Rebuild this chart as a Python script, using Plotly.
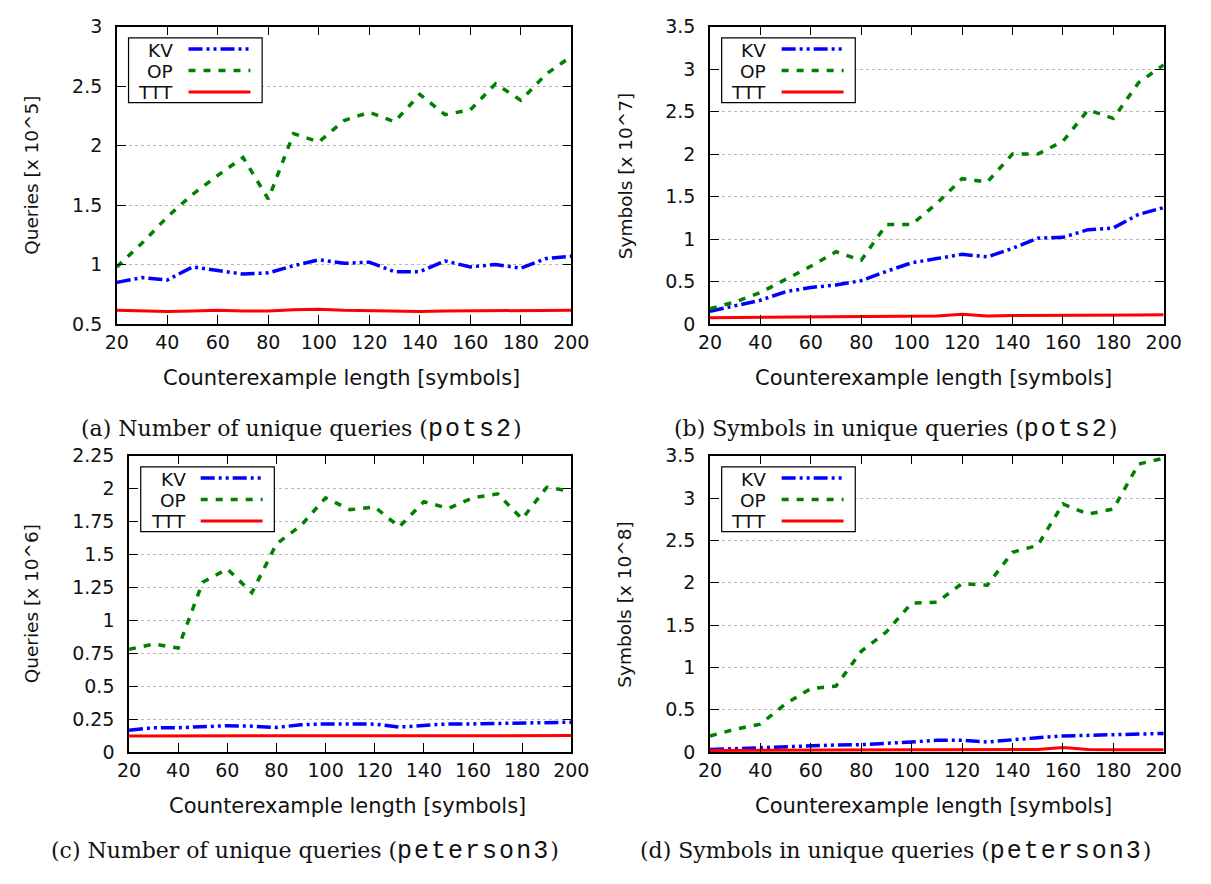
import plotly.graph_objects as go

W, H = 1211, 884

lengths = [20, 30, 40, 50, 60, 70, 80, 90, 100, 110, 120, 130, 140, 150, 160, 170, 180, 190, 200]
series_names = ["KV", "OP", "TTT"]

# (a) Number of unique queries (pots2)  [x 10^5]
a_kv = [0.85, 0.89, 0.87, 0.98, 0.95, 0.92, 0.93, 0.99, 1.04, 1.01, 1.02, 0.94, 0.94, 1.03, 0.98, 1.00, 0.97, 1.05, 1.07]
a_op = [0.98, 1.18, 1.40, 1.59, 1.75, 1.90, 1.55, 2.10, 2.03, 2.21, 2.28, 2.20, 2.43, 2.26, 2.30, 2.52, 2.38, 2.60, 2.75]
a_ttt = [0.615, 0.61, 0.605, 0.61, 0.615, 0.61, 0.61, 0.62, 0.625, 0.615, 0.61, 0.61, 0.605, 0.61, 0.61, 0.61, 0.61, 0.61, 0.615]

# (b) Symbols in unique queries (pots2)  [x 10^7]
b_kv = [0.15, 0.22, 0.28, 0.38, 0.43, 0.46, 0.51, 0.62, 0.72, 0.77, 0.82, 0.79, 0.89, 1.01, 1.02, 1.11, 1.13, 1.29, 1.37]
b_op = [0.18, 0.26, 0.37, 0.52, 0.68, 0.85, 0.75, 1.17, 1.17, 1.42, 1.71, 1.67, 2.00, 2.00, 2.15, 2.52, 2.42, 2.84, 3.05]
b_ttt = [0.075, 0.078, 0.08, 0.085, 0.088, 0.09, 0.09, 0.092, 0.095, 0.095, 0.115, 0.095, 0.10, 0.10, 0.098, 0.10, 0.10, 0.105, 0.11]

# (c) Number of unique queries (peterson3)  [x 10^6]
c_kv = [0.165, 0.185, 0.185, 0.19, 0.20, 0.197, 0.187, 0.207, 0.214, 0.214, 0.212, 0.19, 0.20, 0.214, 0.214, 0.217, 0.217, 0.22, 0.227]
c_op = [0.78, 0.82, 0.79, 1.29, 1.39, 1.21, 1.58, 1.72, 1.93, 1.84, 1.86, 1.71, 1.90, 1.85, 1.93, 1.96, 1.77, 2.01, 1.98]
c_ttt = [0.123, 0.123, 0.124, 0.125, 0.125, 0.125, 0.125, 0.125, 0.126, 0.126, 0.125, 0.125, 0.125, 0.125, 0.125, 0.125, 0.125, 0.125, 0.125]

# (d) Symbols in unique queries (peterson3)  [x 10^8]
d_kv = [0.03, 0.04, 0.06, 0.065, 0.077, 0.084, 0.088, 0.10, 0.12, 0.14, 0.14, 0.12, 0.15, 0.17, 0.19, 0.195, 0.21, 0.21, 0.22]
d_op = [0.19, 0.27, 0.33, 0.57, 0.75, 0.78, 1.19, 1.42, 1.76, 1.77, 1.99, 1.97, 2.36, 2.44, 2.93, 2.81, 2.87, 3.40, 3.47]
d_ttt = [0.02, 0.022, 0.024, 0.025, 0.026, 0.027, 0.027, 0.028, 0.028, 0.028, 0.028, 0.028, 0.029, 0.03, 0.055, 0.03, 0.028, 0.027, 0.028]

y_titles = ["Queries [x 10^5]", "Symbols [x 10^7]", "Queries [x 10^6]", "Symbols [x 10^8]"]
x_title = "Counterexample length [symbols]"
captions = [
    ("(a) Number of unique queries (", "pots2", ")"),
    ("(b) Symbols in unique queries (", "pots2", ")"),
    ("(c) Number of unique queries (", "peterson3", ")"),
    ("(d) Symbols in unique queries (", "peterson3", ")"),
]
y_ranges = [(0.5, 3.0, 0.5), (0, 3.5, 0.5), (0, 2.25, 0.25), (0, 3.5, 0.5)]
panel_data = [
    (a_kv, a_op, a_ttt),
    (b_kv, b_op, b_ttt),
    (c_kv, c_op, c_ttt),
    (d_kv, d_op, d_ttt),
]

# pixel geometry of the four plot areas: (left, right, top, bottom)
boxes = [(107.5, 573.5, 16, 321), (715.7, 1181, 16, 321), (120, 573.5, 456, 760), (715.7, 1181, 456, 760)]
ytitle_x = [20, 628.5, 20, 628.5]
caption_pos = [(297, 429), (906, 429), (300, 862), (906, 862)]

styles = [
    dict(color="#0000ff", width=3.5, dash="14px,4px,3px,4px,3px,4px"),
    dict(color="#008000", width=3.5, dash="7px,8px"),
    dict(color="#ff0000", width=3, dash="solid"),
]

def fx(px):
    return px / W

def fy(py):
    return 1 - py / H

fig = go.Figure()
shapes = []
annotations = []
tickfont = dict(family="DejaVu Sans", size=19, color="#111")

for i, (vals, box, yr, yt, cap) in enumerate(zip(panel_data, boxes, y_ranges, y_titles, captions)):
    l, r, t, b = box
    sfx = "" if i == 0 else str(i + 1)
    for name, v, st in zip(series_names, vals, styles):
        fig.add_trace(go.Scatter(x=lengths, y=v, mode="lines", name=name, line=st,
                                 xaxis="x" + sfx, yaxis="y" + sfx, showlegend=False))
    common = dict(showline=True, linecolor="black", linewidth=1.5, mirror="allticks",
                  ticks="inside", ticklen=9, tickwidth=1.2, tickcolor="black",
                  tickfont=tickfont, zeroline=False)
    fig.update_layout(**{
        "xaxis" + sfx: dict(domain=[fx(l), fx(r)], anchor="y" + sfx, range=[20, 200],
                           tick0=20, dtick=20, showgrid=False, **common),
        "yaxis" + sfx: dict(domain=[fy(b), fy(t)], anchor="x" + sfx, range=[yr[0], yr[1]],
                           tick0=yr[0], dtick=yr[2], showgrid=True, gridcolor="#b8b8b8",
                           griddash="dot", gridwidth=1, ticklabelstandoff=9, **common),
    })
    # axis titles
    annotations.append(dict(text=yt, x=fx(ytitle_x[i]), y=fy((t + b) / 2),
                            xref="paper", yref="paper", textangle=-90, showarrow=False,
                            font=dict(family="DejaVu Sans", size=18.5, color="#111"),
                            xanchor="center", yanchor="middle"))
    annotations.append(dict(text=x_title, x=fx((l + r) / 2 - 3), y=fy(b + 55.5), xref="paper", yref="paper",
                            showarrow=False, font=dict(family="DejaVu Sans", size=21, color="#111"),
                            xanchor="center", yanchor="middle"))
    # caption
    cap_text = (cap[0] + '<span style="font-family:Liberation Mono;font-size:25px;letter-spacing:2px">'
                + cap[1] + "</span>" + cap[2])
    cx, cy = caption_pos[i]
    annotations.append(dict(text=cap_text, x=fx(cx), y=fy(cy), xref="paper", yref="paper",
                            showarrow=False, font=dict(family="DejaVu Serif", size=22, color="#111"),
                            xanchor="center", yanchor="middle"))
    # legend box (gnuplot style: label left of sample)
    lx0 = l + 12
    ly0 = t + 11.5
    lx1 = lx0 + 137
    ly1 = ly0 + 66.5
    shapes.append(dict(type="rect", xref="paper", yref="paper", x0=fx(lx0), x1=fx(lx1),
                       y0=fy(ly1), y1=fy(ly0), line=dict(color="black", width=1.2),
                       fillcolor="white", layer="above"))
    for k, (name, st) in enumerate(zip(series_names, styles)):
        yy = ly0 + 11.5 + 22 * k
        shapes.append(dict(type="line", xref="paper", yref="paper", x0=fx(lx0 + 61.5), x1=fx(lx0 + 125),
                           y0=fy(yy), y1=fy(yy), line=dict(color=st["color"], width=st["width"], dash=st["dash"]),
                           layer="above"))
        annotations.append(dict(text=name, x=fx(lx0 + 48), y=fy(yy + 1), xref="paper", yref="paper",
                                showarrow=False, xanchor="right", yanchor="middle",
                                font=dict(family="DejaVu Sans", size=18.5, color="#111")))

fig.update_layout(width=W, height=H, margin=dict(l=0, r=0, t=0, b=0),
                  paper_bgcolor="white", plot_bgcolor="white",
                  shapes=shapes, annotations=annotations, showlegend=False)
fig.write_html("out.html", config={"displayModeBar": False},
               post_script="document.body.style.margin='0';document.body.style.overflow='hidden';")
